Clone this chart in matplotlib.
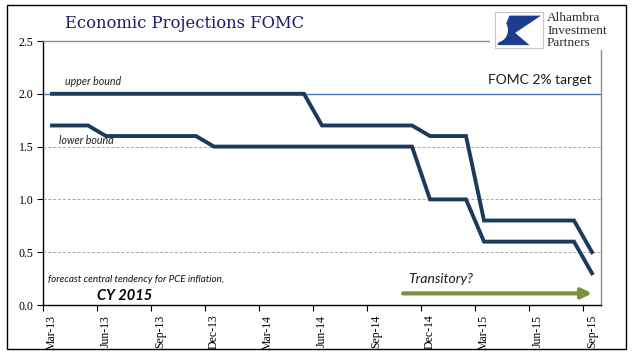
import matplotlib
matplotlib.use("Agg")
import matplotlib.pyplot as plt
import matplotlib.patches as mpatches
import numpy as np
import pandas as pd

# ---- data ----
months = pd.period_range("2013-03", "2015-09", freq="M")
upper_bound = [2.0, 2.0, 2.0, 2.0, 2.0, 2.0, 2.0, 2.0, 2.0, 2.0,
               2.0, 2.0, 2.0, 2.0, 2.0,
               1.7, 1.7, 1.7, 1.7, 1.7, 1.7,
               1.6, 1.6, 1.6,
               0.8, 0.8, 0.8, 0.8, 0.8, 0.8,
               0.5]
lower_bound = [1.7, 1.7, 1.7,
               1.6, 1.6, 1.6, 1.6, 1.6, 1.6,
               1.5, 1.5, 1.5, 1.5, 1.5, 1.5, 1.5, 1.5, 1.5, 1.5, 1.5, 1.5,
               1.0, 1.0, 1.0,
               0.6, 0.6, 0.6, 0.6, 0.6, 0.6,
               0.3]
target = 2.0
yticks = [0.0, 0.5, 1.0, 1.5, 2.0, 2.5]
tick_labels = [m.strftime("%b-%y") for m in months[::3]]

W, H = 641, 358
fig = plt.figure(figsize=(W / 100, H / 100), dpi=100)

def fx(px):
    return px / W

def fy(py):
    return 1 - py / H

ax = fig.add_axes([fx(43), fy(305), fx(601) - fx(43), fy(41) - fy(305)])

x = np.arange(len(months)) + 0.5
line_col = "#1c3a5e"
ax.plot(x, upper_bound, color=line_col, lw=2.8, solid_joinstyle="miter", zorder=4)
ax.plot(x, lower_bound, color=line_col, lw=2.8, solid_joinstyle="miter", zorder=4)

ax.set_xlim(0, len(months))
ax.set_ylim(0, 2.5)

# gridlines
for yv in [0.5, 1.0, 1.5]:
    ax.axhline(yv, color="#a6a6a6", lw=0.7, ls=(0, (3, 2)), zorder=1)
ax.axhline(target, color="#4a7ebb", lw=1.0, zorder=2)

# ticks
serif = "Liberation Serif"
ax.set_yticks(yticks)
ax.set_yticklabels([f"{v:.1f}" for v in yticks], fontfamily=serif, fontsize=8.5)
major = np.arange(0, len(months), 3)
ax.set_xticks(major)
ax.set_xticklabels([])
ax.set_xticks(major + 0.5, minor=True)
ax.set_xticklabels(tick_labels, minor=True, rotation=90, fontfamily=serif,
                   fontsize=8.5, va="top", ha="center")
ax.tick_params(axis="x", which="major", direction="out", length=4, width=0.8, color="black")
ax.tick_params(axis="x", which="minor", length=0, pad=7)
ax.tick_params(axis="y", direction="out", length=4, width=0.8, color="black", pad=3)

for s in ["left", "bottom"]:
    ax.spines[s].set_color("black")
    ax.spines[s].set_linewidth(1.0)
for s in ["top", "right"]:
    ax.spines[s].set_color("#8c8c8c")
    ax.spines[s].set_linewidth(1.0)

# annotations
sans = "Lato"
ax.text(1.2, 2.06, "upper bound", style="italic", fontfamily=sans, fontsize=7.7,
        color="#222222", va="bottom", ha="left")
ax.text(0.9, 1.505, "lower bound", style="italic", fontfamily=sans, fontsize=7.7,
        color="#222222", va="bottom", ha="left")
ax.text(30.5, 2.07, "FOMC 2% target", fontfamily=sans, fontsize=10,
        color="#1a1a1a", va="bottom", ha="right")
ax.text(0.25, 0.24, "forecast central tendency for PCE inflation,", style="italic",
        fontfamily=sans, fontsize=7.1, color="#111111", va="center", ha="left")
ax.text(3.0, 0.085, "CY 2015", style="italic", weight="bold", fontfamily=sans,
        fontsize=10.5, color="#000000", va="center", ha="left")
ax.text(20.3, 0.25, "Transitory?", style="italic", fontfamily=sans, fontsize=10,
        color="#1a1a1a", va="center", ha="left")
ax.annotate("", xy=(30.5, 0.11), xytext=(20.0, 0.11),
            arrowprops=dict(arrowstyle="-|>,head_length=0.6,head_width=0.3",
                            color="#77933c", lw=3, shrinkA=0, shrinkB=0))

# title
fig.text(fx(65), fy(23), "Economic Projections FOMC", fontfamily="DejaVu Serif",
         fontsize=11.8, color="#1a1a6e", va="center", ha="left")

# logo background
fig.patches.append(mpatches.Rectangle((fx(490), fy(50)), fx(612) - fx(490), fy(8) - fy(50),
                                      transform=fig.transFigure, facecolor="white",
                                      edgecolor="none", zorder=5))
lax = fig.add_axes([fx(495), fy(48), fx(543) - fx(495), fy(12) - fy(48)], zorder=6)
lax.set_xlim(0, 1)
lax.set_ylim(0, 1)
lax.set_xticks([])
lax.set_yticks([])
for s in lax.spines.values():
    s.set_color("#c8c8c8")
    s.set_linewidth(0.8)
lax.add_patch(mpatches.Polygon([(0.3, 0.9), (0.96, 0.9), (0.42, 0.42), (0.72, 0.08),
                                (0.05, 0.08)], closed=True, facecolor="#1b3d8f",
                               edgecolor="none"))
lax.add_patch(mpatches.Ellipse((0.02, 0.5), 0.5, 0.7, facecolor="white", edgecolor="none"))
for i, word in enumerate(["Alhambra", "Investment", "Partners"]):
    fig.text(fx(547), fy(18 + 12.5 * i), word, fontfamily=serif, fontsize=9.6,
             color="#2b2b2b", va="center", ha="left", zorder=7)

# outer frame
fig.patches.append(mpatches.Rectangle((fx(7), fy(349)), fx(626) - fx(7), fy(5) - fy(349),
                                      transform=fig.transFigure, facecolor="none",
                                      edgecolor="black", lw=1.0, zorder=8))

fig.savefig("out.png", dpi=100)
